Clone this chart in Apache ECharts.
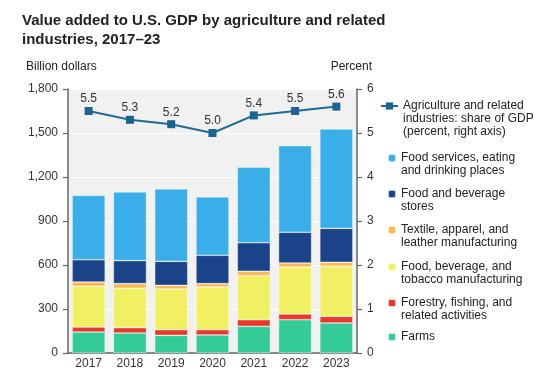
<!DOCTYPE html>
<html>
<head>
<meta charset="utf-8">
<style>html,body{margin:0;padding:0;background:#fff;}#c{width:544px;height:379px;}</style>
<script src="https://cdn.jsdelivr.net/npm/echarts@6/dist/echarts.min.js"></script>
</head>
<body>
<div id="c"></div>
<script>
var years = ['2017','2018','2019','2020','2021','2022','2023'];
var farms = [143, 136, 120, 123, 182, 227, 205];
var forestry = [34, 37, 39, 36, 45, 39, 45];
var foodMfg = [278, 268, 277, 291, 300, 320, 341];
var textile = [29, 32, 25, 23, 30, 28, 27];
var foodStores = [152, 157, 164, 193, 195, 209, 232];
var foodServices = [439, 468, 493, 398, 514, 591, 677];
var gdpShare = [5.5, 5.3, 5.2, 5.0, 5.4, 5.5, 5.6];
var leftTicks = [0, 300, 600, 900, 1200, 1500, 1800];
var rightTicks = [0, 1, 2, 3, 4, 5, 6];

var FONT = 'Liberation Sans, Arial, Helvetica, sans-serif';
var names = {
  share: 'Agriculture and related industries: share of GDP (percent, right axis)',
  services: 'Food services, eating and drinking places',
  stores: 'Food and beverage stores',
  textile: 'Textile, apparel, and leather manufacturing',
  mfg: 'Food, beverage, and tobacco manufacturing',
  forestry: 'Forestry, fishing, and related activities',
  farms: 'Farms'
};
var legendLines = {};
legendLines[names.share] = ['Agriculture and related', 'industries: share of GDP', '(percent, right axis)'];
legendLines[names.services] = ['Food services, eating', 'and drinking places'];
legendLines[names.stores] = ['Food and beverage', 'stores'];
legendLines[names.textile] = ['Textile, apparel, and', 'leather manufacturing'];
legendLines[names.mfg] = ['Food, beverage, and', 'tobacco manufacturing'];
legendLines[names.forestry] = ['Forestry, fishing, and', 'related activities'];
legendLines[names.farms] = ['Farms'];

var LH = 13;
function mkLegend(name, firstLineY, isLine) {
  var lines = legendLines[name];
  var n = lines.length;
  var h = isLine ? 9 : 8;
  var H = (2 * n - 1) * LH;
  var blank = new Array(n).join('\n');
  return {
    show: true,
    orient: 'vertical',
    left: isLine ? 380 : 387,
    top: firstLineY - h / 2 - Math.max(0, H / 2 - h / 2),
    padding: 0,
    selectedMode: false,
    itemWidth: isLine ? 17 : 8,
    itemHeight: h,
    data: [name],
    formatter: function () { return blank + lines.join('\n'); },
    textStyle: { fontFamily: FONT, fontSize: 12, color: '#222', lineHeight: LH }
  };
}

var barBorder = { borderColor: 'rgba(255,255,255,0.7)', borderWidth: 0.6 };
function barSeries(name, data, color) {
  return {
    name: name, type: 'bar', stack: 'total', data: data,
    barCategoryGap: '20%',
    itemStyle: Object.assign({ color: color }, barBorder),
    emphasis: { disabled: true }
  };
}

var chart = echarts.init(document.getElementById('c'), null, { renderer: 'canvas' });
chart.setOption({
  animation: false,
  textStyle: { fontFamily: FONT },
  title: [
    { text: 'Value added to U.S. GDP by agriculture and related\nindustries, 2017\u201323', left: 22, top: 11, padding: 0,
      textStyle: { fontFamily: FONT, fontSize: 15, fontWeight: 'bold', color: '#222', lineHeight: 19 } },
    { text: 'Billion dollars', left: 26, top: 60, padding: 0,
      textStyle: { fontFamily: FONT, fontSize: 12, fontWeight: 'normal', color: '#222', lineHeight: 14 } },
    { text: 'Percent', right: 172, top: 60, padding: 0,
      textStyle: { fontFamily: FONT, fontSize: 12, fontWeight: 'normal', color: '#222', lineHeight: 14 } }
  ],
  legend: [
    mkLegend(names.share, 106, true),
    mkLegend(names.services, 158, false),
    mkLegend(names.stores, 194, false),
    mkLegend(names.textile, 230, false),
    mkLegend(names.mfg, 267, false),
    mkLegend(names.forestry, 303, false),
    mkLegend(names.farms, 337, false)
  ],
  grid: { left: 68, right: 187, top: 89, bottom: 26, show: true, backgroundColor: '#f1f1f1', borderWidth: 0 },
  xAxis: {
    type: 'category', data: years,
    axisLine: { show: true, lineStyle: { color: '#666', width: 1.5 } },
    axisTick: { show: false },
    axisLabel: { fontFamily: FONT, fontSize: 12, color: '#333', margin: 5 }
  },
  yAxis: [
    { type: 'value', min: leftTicks[0], max: leftTicks[leftTicks.length - 1], interval: leftTicks[1] - leftTicks[0],
      axisLine: { show: true, lineStyle: { color: '#666', width: 1.5 } },
      axisTick: { show: true, length: 5, lineStyle: { color: '#666', width: 1.2 } },
      axisLabel: { fontFamily: FONT, fontSize: 12, color: '#333', margin: 10,
        formatter: function (v) { return v.toLocaleString('en-US'); } },
      splitLine: { show: true, lineStyle: { color: '#ffffff', width: 1 } }
    },
    { type: 'value', min: rightTicks[0], max: rightTicks[rightTicks.length - 1], interval: rightTicks[1] - rightTicks[0],
      position: 'right',
      axisLine: { show: true, lineStyle: { color: '#666', width: 1.5 } },
      axisTick: { show: true, length: 5, lineStyle: { color: '#666', width: 1.2 } },
      axisLabel: { fontFamily: FONT, fontSize: 12, color: '#333', margin: 10 },
      splitLine: { show: false }
    }
  ],
  series: [
    barSeries(names.farms, farms, '#33cc96'),
    barSeries(names.forestry, forestry, '#e8382c'),
    barSeries(names.mfg, foodMfg, '#f0f062'),
    barSeries(names.textile, textile, '#fdb853'),
    barSeries(names.stores, foodStores, '#1a438a'),
    barSeries(names.services, foodServices, '#3aaee8'),
    {
      name: names.share, type: 'line', yAxisIndex: 1, data: gdpShare, z: 5,
      symbol: 'rect', symbolSize: 8,
      lineStyle: { color: '#1d6a9c', width: 2 },
      itemStyle: { color: '#1d6391' },
      label: { show: true, position: 'top', distance: 2, fontFamily: FONT, fontSize: 12, color: '#333',
        formatter: function (p) { return p.value.toFixed(1); } },
      emphasis: { disabled: true }
    }
  ]
});
</script>
</body>
</html>
